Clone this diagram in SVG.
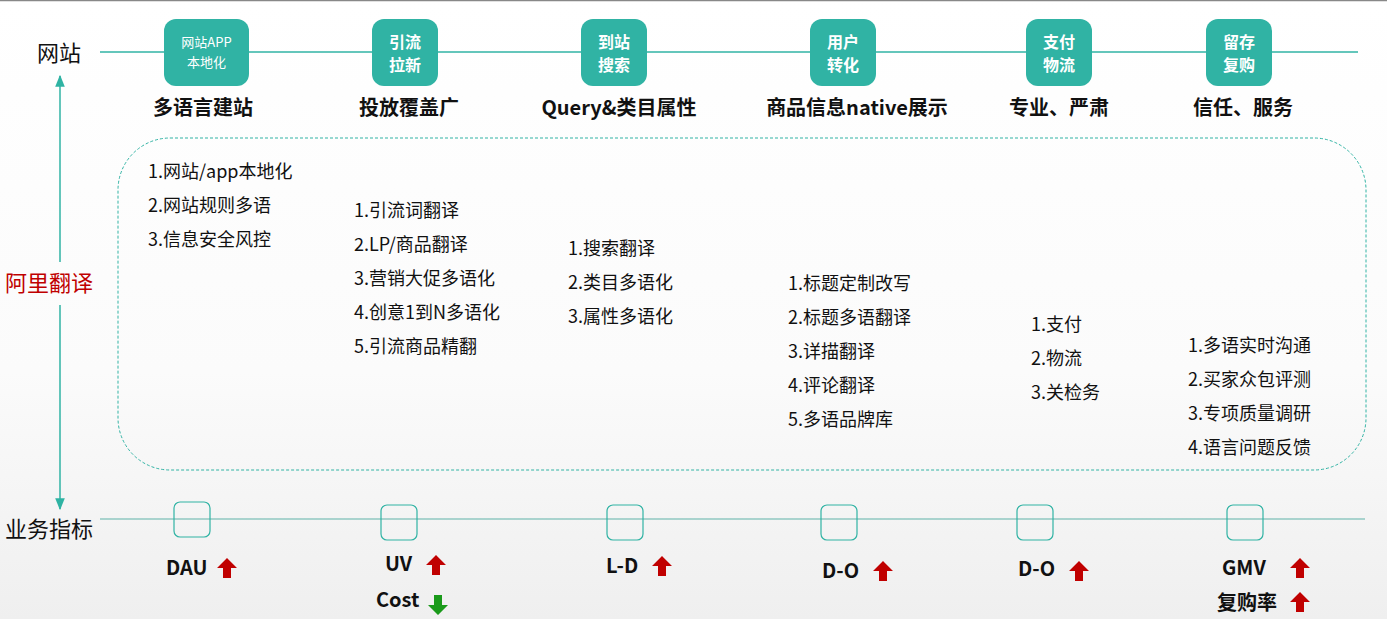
<svg xmlns="http://www.w3.org/2000/svg" width="1387" height="619" viewBox="0 0 1387 619">
<defs>
<linearGradient id="bg" x1="0" y1="0" x2="0" y2="1"><stop offset="0" stop-color="#ffffff"/><stop offset="0.6" stop-color="#fbfbfb"/><stop offset="1" stop-color="#efefef"/></linearGradient>
<marker id="ah" viewBox="0 0 10 10" refX="9" refY="5" markerWidth="8" markerHeight="8" orient="auto-start-reverse"><path d="M0,1 L10,5 L0,9 z" fill="#2fb3a3"/></marker>
<path id="up" d="M0,-10 L10,0 L4,0 L4,10 L-4,10 L-4,0 L-10,0 z"/>
</defs>
<style>
.f{font-family:"Noto Sans CJK SC","Microsoft YaHei",sans-serif}
.tb{fill:#30b3a4}
.tt{fill:#fff;font-size:16px;font-weight:bold;text-anchor:middle}
.lb{font-size:20px;font-weight:bold;text-anchor:middle;fill:#111}
.li{font-size:18px;fill:#111}
.sb{fill:none;stroke:#30b3a4;stroke-width:1.2}
.m{font-size:20px;font-weight:bold;fill:#111}
.ln{stroke:#30b3a4;stroke-width:1.5}
</style>
<rect width="1387" height="619" fill="url(#bg)"/>
<line x1="0" y1="0.5" x2="1387" y2="0.5" stroke="#888" stroke-width="1.5"/>
<g id="connectors">
<line class="ln" x1="100" y1="52" x2="1358" y2="52"/>
<line x1="100" y1="519" x2="1365" y2="519" stroke="#5fb2a8" stroke-width="1.2"/>
<line class="ln" x1="60" y1="262" x2="60" y2="76" marker-end="url(#ah)"/>
<line class="ln" x1="60" y1="305" x2="60" y2="509" marker-end="url(#ah)"/>
</g>
<g class="f">
<text x="59" y="61" font-size="22" text-anchor="middle" fill="#111">网站</text>
<text x="49" y="291" font-size="22" text-anchor="middle" fill="#c00000">阿里翻译</text>
<text x="49" y="537" font-size="22" text-anchor="middle" fill="#111">业务指标</text>
</g>
<rect x="118" y="138" width="1248" height="332" rx="52" fill="none" stroke="#30b3a4" stroke-dasharray="3,2" stroke-width="1"/>
<g class="f">
<g id="n1"><rect class="tb" x="164" y="19" width="85" height="67" rx="12"/><text class="tt" x="206.5" y="47" style="font-weight:normal;font-size:13px">网站APP</text><text class="tt" x="206.5" y="67" style="font-weight:normal;font-size:13px">本地化</text><text class="lb" x="203" y="115">多语言建站</text></g>
<g id="n2"><rect class="tb" x="372" y="19" width="66" height="67" rx="12"/><text class="tt" x="405" y="48">引流</text><text class="tt" x="405" y="71">拉新</text><text class="lb" x="409" y="115">投放覆盖广</text></g>
<g id="n3"><rect class="tb" x="581" y="19" width="66" height="67" rx="12"/><text class="tt" x="614" y="48">到站</text><text class="tt" x="614" y="71">搜索</text><text class="lb" x="619" y="115">Query&amp;类目属性</text></g>
<g id="n4"><rect class="tb" x="810" y="19" width="66" height="67" rx="12"/><text class="tt" x="843" y="48">用户</text><text class="tt" x="843" y="71">转化</text><text class="lb" x="857" y="115">商品信息native展示</text></g>
<g id="n5"><rect class="tb" x="1026" y="19" width="66" height="67" rx="12"/><text class="tt" x="1059" y="48">支付</text><text class="tt" x="1059" y="71">物流</text><text class="lb" x="1059" y="115">专业、严肃</text></g>
<g id="n6"><rect class="tb" x="1206" y="19" width="66" height="67" rx="12"/><text class="tt" x="1239" y="48">留存</text><text class="tt" x="1239" y="71">复购</text><text class="lb" x="1243" y="115">信任、服务</text></g>
<g id="l1" class="li"><text x="148" y="178">1.网站/app本地化</text><text x="148" y="212">2.网站规则多语</text><text x="148" y="246">3.信息安全风控</text></g>
<g id="l2" class="li"><text x="354" y="217">1.引流词翻译</text><text x="354" y="251">2.LP/商品翻译</text><text x="354" y="285">3.营销大促多语化</text><text x="354" y="319">4.创意1到N多语化</text><text x="354" y="353">5.引流商品精翻</text></g>
<g id="l3" class="li"><text x="568" y="255">1.搜索翻译</text><text x="568" y="289">2.类目多语化</text><text x="568" y="323">3.属性多语化</text></g>
<g id="l4" class="li"><text x="788" y="290">1.标题定制改写</text><text x="788" y="324">2.标题多语翻译</text><text x="788" y="358">3.详描翻译</text><text x="788" y="392">4.评论翻译</text><text x="788" y="426">5.多语品牌库</text></g>
<g id="l5" class="li"><text x="1031" y="331">1.支付</text><text x="1031" y="365">2.物流</text><text x="1031" y="399">3.关检务</text></g>
<g id="l6" class="li"><text x="1188" y="352">1.多语实时沟通</text><text x="1188" y="386">2.买家众包评测</text><text x="1188" y="420">3.专项质量调研</text><text x="1188" y="454">4.语言问题反馈</text></g>
<g id="m1"><rect class="sb" x="174" y="502" width="36" height="35" rx="6"/><text class="m" x="166" y="575">DAU</text><use href="#up" x="227" y="568" fill="#c00000"/></g>
<g id="m2"><rect class="sb" x="381" y="505" width="36" height="35" rx="6"/><text class="m" x="385" y="571">UV</text><use href="#up" x="436" y="565" fill="#c00000"/><text class="m" x="376" y="607">Cost</text><use href="#up" x="438" y="605" fill="#1a9a1a" transform="rotate(180 438 605)"/></g>
<g id="m3"><rect class="sb" x="607" y="505" width="36" height="35" rx="6"/><text class="m" x="606" y="573">L-D</text><use href="#up" x="662" y="566" fill="#c00000"/></g>
<g id="m4"><rect class="sb" x="821" y="505" width="36" height="35" rx="6"/><text class="m" x="822" y="578">D-O</text><use href="#up" x="883" y="571" fill="#c00000"/></g>
<g id="m5"><rect class="sb" x="1017" y="505" width="36" height="35" rx="6"/><text class="m" x="1018" y="576">D-O</text><use href="#up" x="1079" y="571" fill="#c00000"/></g>
<g id="m6"><rect class="sb" x="1227" y="505" width="36" height="35" rx="6"/><text class="m" x="1222" y="575">GMV</text><use href="#up" x="1300" y="568" fill="#c00000"/><text class="m" x="1217" y="610">复购率</text><use href="#up" x="1300" y="602" fill="#c00000"/></g>
</g>
</svg>
